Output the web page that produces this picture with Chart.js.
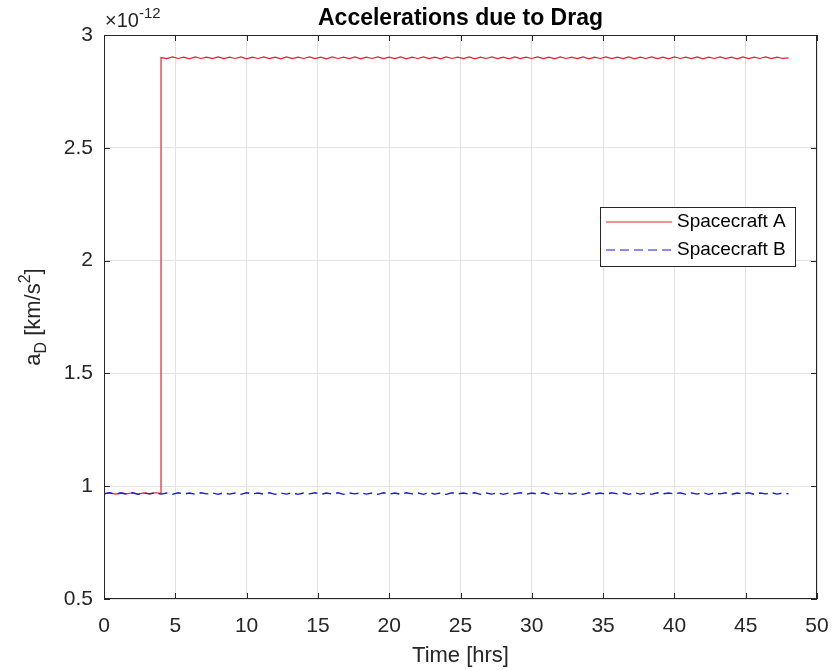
<!DOCTYPE html>
<html>
<head>
<meta charset="utf-8">
<script src="https://cdn.jsdelivr.net/npm/chart.js@4"></script>
<style>
  html, body { margin: 0; padding: 0; background: #fff; }
  #wrap { width: 832px; height: 670px; position: relative; }
</style>
</head>
<body>
<div id="wrap"><canvas id="chart-drag"></canvas></div>
<script>
// values in units of 1e-12 km/s^2, time in hours
const EXPONENT = '-12';
const X_TICKS = [0, 5, 10, 15, 20, 25, 30, 35, 40, 45, 50];
const Y_TICKS = [0.5, 1, 1.5, 2, 2.5, 3];

const timeB = [0,0.4,0.8,1.2,1.6,2,2.4,2.8,3.2,3.6,4,4.4,4.8,5.2,5.6,6,6.4,6.8,7.2,7.6,
  8,8.4,8.8,9.2,9.6,10,10.4,10.8,11.2,11.6,12,12.4,12.8,13.2,13.6,14,14.4,14.8,15.2,15.6,
  16,16.4,16.8,17.2,17.6,18,18.4,18.8,19.2,19.6,20,20.4,20.8,21.2,21.6,22,22.4,22.8,23.2,23.6,
  24,24.4,24.8,25.2,25.6,26,26.4,26.8,27.2,27.6,28,28.4,28.8,29.2,29.6,30,30.4,30.8,31.2,31.6,
  32,32.4,32.8,33.2,33.6,34,34.4,34.8,35.2,35.6,36,36.4,36.8,37.2,37.6,38,38.4,38.8,39.2,39.6,
  40,40.4,40.8,41.2,41.6,42,42.4,42.8,43.2,43.6,44,44.4,44.8,45.2,45.6,46,46.4,46.8,47.2,47.6,48];
const accelB = [0.966,0.971,0.964,0.970,0.965,0.971,0.964,0.970,0.966,0.971,0.965,0.970,0.964,0.971,0.965,0.970,0.964,0.971,0.966,0.970,
  0.964,0.971,0.965,0.970,0.964,0.971,0.966,0.970,0.965,0.971,0.964,0.970,0.965,0.971,0.964,0.970,0.966,0.971,0.964,0.970,
  0.965,0.971,0.964,0.970,0.966,0.971,0.965,0.970,0.964,0.971,0.965,0.970,0.964,0.971,0.966,0.970,0.964,0.971,0.965,0.970,
  0.964,0.971,0.966,0.970,0.965,0.971,0.964,0.970,0.965,0.971,0.964,0.970,0.966,0.971,0.964,0.970,0.965,0.971,0.964,0.970,
  0.966,0.971,0.965,0.970,0.964,0.971,0.965,0.970,0.964,0.971,0.966,0.970,0.964,0.971,0.965,0.970,0.964,0.971,0.966,0.970,
  0.965,0.971,0.964,0.970,0.965,0.971,0.964,0.970,0.966,0.971,0.964,0.970,0.965,0.971,0.964,0.970,0.966,0.971,0.965,0.970,0.966];

const timeA = [0,0.4,0.8,1.2,1.6,2,2.4,2.8,3.2,3.6,4,4,4.4,4.8,5.2,5.6,6,6.4,6.8,7.2,7.6,
  8,8.4,8.8,9.2,9.6,10,10.4,10.8,11.2,11.6,12,12.4,12.8,13.2,13.6,14,14.4,14.8,15.2,15.6,
  16,16.4,16.8,17.2,17.6,18,18.4,18.8,19.2,19.6,20,20.4,20.8,21.2,21.6,22,22.4,22.8,23.2,23.6,
  24,24.4,24.8,25.2,25.6,26,26.4,26.8,27.2,27.6,28,28.4,28.8,29.2,29.6,30,30.4,30.8,31.2,31.6,
  32,32.4,32.8,33.2,33.6,34,34.4,34.8,35.2,35.6,36,36.4,36.8,37.2,37.6,38,38.4,38.8,39.2,39.6,
  40,40.4,40.8,41.2,41.6,42,42.4,42.8,43.2,43.6,44,44.4,44.8,45.2,45.6,46,46.4,46.8,47.2,47.6,48];
const accelA = [0.967,0.971,0.965,0.970,0.966,0.971,0.965,0.970,0.966,0.971,0.968,
  2.900,2.895,2.903,2.896,2.902,2.894,2.903,2.896,2.902,2.895,
  2.903,2.895,2.902,2.896,2.903,2.894,2.902,2.896,2.903,2.895,
  2.902,2.894,2.903,2.895,2.902,2.896,2.903,2.895,2.902,2.894,
  2.903,2.896,2.902,2.895,2.903,2.894,2.902,2.896,2.903,2.895,
  2.902,2.895,2.903,2.894,2.902,2.896,2.903,2.895,2.902,2.894,
  2.903,2.896,2.902,2.895,2.903,2.894,2.902,2.896,2.903,2.895,
  2.902,2.894,2.903,2.895,2.902,2.896,2.903,2.895,2.902,2.894,
  2.903,2.896,2.902,2.895,2.903,2.894,2.902,2.896,2.903,2.895,
  2.902,2.895,2.903,2.894,2.902,2.896,2.903,2.895,2.902,2.894,
  2.903,2.896,2.902,2.895,2.903,2.894,2.902,2.896,2.903,2.895,
  2.902,2.894,2.903,2.895,2.902,2.896,2.903,2.895,2.902,2.896,2.899];

const SERIES_NAMES = ['Spacecraft A', 'Spacecraft B'];
const COLOR_A = '#e8202c';
const COLOR_B = '#1a1ae6';
const AXIS = '#262626';
const FONT = "'Liberation Sans', Arial, sans-serif";

const toXY = (xs, ys) => xs.map((x, i) => ({ x, y: ys[i] }));

const matlabFrame = {
  id: 'matlabFrame',
  afterDraw(chart) {
    const { ctx, chartArea: a, scales } = chart;
    ctx.save();
    // box
    ctx.strokeStyle = AXIS;
    ctx.lineWidth = 1;
    ctx.strokeRect(Math.round(a.left) + 0.5, Math.round(a.top) + 0.5,
      Math.round(a.right - a.left) - 1, Math.round(a.bottom - a.top) - 1);
    // inward ticks
    ctx.beginPath();
    X_TICKS.forEach(v => {
      const px = Math.round(scales.x.getPixelForValue(v)) + 0.5;
      ctx.moveTo(px, a.top); ctx.lineTo(px, a.top + 6);
      ctx.moveTo(px, a.bottom); ctx.lineTo(px, a.bottom - 6);
    });
    Y_TICKS.forEach(v => {
      const py = Math.round(scales.y.getPixelForValue(v)) + 0.5;
      ctx.moveTo(a.left, py); ctx.lineTo(a.left + 6, py);
      ctx.moveTo(a.right, py); ctx.lineTo(a.right - 6, py);
    });
    ctx.stroke();

    ctx.fillStyle = '#000';
    // title
    ctx.font = `bold 23px ${FONT}`;
    ctx.textAlign = 'center';
    ctx.textBaseline = 'alphabetic';
    ctx.fillText('Accelerations due to Drag', (a.left + a.right) / 2, 25);

    ctx.fillStyle = AXIS;
    // exponent
    ctx.textAlign = 'left';
    ctx.font = `20px ${FONT}`;
    ctx.fillText('\u00d710', a.left + 1, 27);
    const w = ctx.measureText('\u00d710').width;
    ctx.font = `15px ${FONT}`;
    ctx.fillText(EXPONENT, a.left + 1 + w, 18);

    // x title
    ctx.font = `22px ${FONT}`;
    ctx.textAlign = 'center';
    ctx.fillText('Time [hrs]', (a.left + a.right) / 2, 662);

    // y title with subscript/superscript
    ctx.save();
    ctx.translate(40, (a.top + a.bottom) / 2);
    ctx.rotate(-Math.PI / 2);
    const parts = [
      { t: 'a', f: 22, dy: 0 },
      { t: 'D', f: 16, dy: 6 },
      { t: ' [km/s', f: 22, dy: 0 },
      { t: '2', f: 16, dy: -10 },
      { t: ']', f: 22, dy: 0 },
    ];
    let total = 0;
    parts.forEach(p => { ctx.font = `${p.f}px ${FONT}`; p.w = ctx.measureText(p.t).width; total += p.w; });
    let cx = -total / 2;
    ctx.textAlign = 'left';
    parts.forEach(p => { ctx.font = `${p.f}px ${FONT}`; ctx.fillText(p.t, cx, p.dy); cx += p.w; });
    ctx.restore();

    // legend
    const lx = 600, ly = 207, lw = 195, lh = 59;
    ctx.fillStyle = '#fff';
    ctx.fillRect(lx, ly, lw, lh);
    ctx.strokeStyle = AXIS;
    ctx.lineWidth = 1;
    ctx.strokeRect(lx + 0.5, ly + 0.5, lw, lh);
    ctx.lineWidth = 1.2;
    ctx.strokeStyle = COLOR_A;
    ctx.beginPath(); ctx.moveTo(606, 222); ctx.lineTo(672, 222); ctx.stroke();
    ctx.strokeStyle = COLOR_B;
    ctx.setLineDash([9, 5]);
    ctx.beginPath(); ctx.moveTo(606, 250); ctx.lineTo(672, 250); ctx.stroke();
    ctx.setLineDash([]);
    ctx.fillStyle = '#000';
    ctx.font = `19px ${FONT}`;
    ctx.textAlign = 'left';
    ctx.textBaseline = 'middle';
    ctx.fillText(SERIES_NAMES[0], 677, 222);
    ctx.fillText(SERIES_NAMES[1], 677, 250);
    ctx.restore();
  }
};

new Chart(document.getElementById('chart-drag').getContext('2d'), {
  type: 'line',
  data: {
    datasets: [
      { label: SERIES_NAMES[0], data: toXY(timeA, accelA), borderColor: COLOR_A, borderWidth: 1.2,
        pointRadius: 0, tension: 0, order: 2 },
      { label: SERIES_NAMES[1], data: toXY(timeB, accelB), borderColor: COLOR_B, borderWidth: 1.4,
        borderDash: [9, 5], pointRadius: 0, tension: 0, order: 1 },
    ],
  },
  options: {
    responsive: true, maintainAspectRatio: false, animation: false,
    layout: { padding: { left: 0, right: 15, top: 35, bottom: 0 } },
    plugins: { legend: { display: false }, title: { display: false }, tooltip: { enabled: false } },
    scales: {
      x: {
        type: 'linear', min: 0, max: 50,
        afterBuildTicks: s => { s.ticks = X_TICKS.map(v => ({ value: v })); },
        afterFit: s => { s.height = 71; s.paddingLeft = 0; s.paddingRight = 0; },
        grid: { color: '#e3e3e3', drawTicks: false },
        border: { display: false },
        ticks: { font: { family: FONT, size: 21 }, color: AXIS, padding: 15, maxRotation: 0 },
      },
      y: {
        min: 0.5, max: 3,
        afterBuildTicks: s => { s.ticks = Y_TICKS.map(v => ({ value: v })); },
        afterFit: s => { s.width = 104; s.paddingTop = 0; s.paddingBottom = 0; },
        grid: { color: '#e3e3e3', drawTicks: false },
        border: { display: false },
        ticks: { font: { family: FONT, size: 21 }, color: AXIS, padding: 11, callback: v => String(v) },
      },
    },
  },
  plugins: [matlabFrame],
});
</script>
</body>
</html>
